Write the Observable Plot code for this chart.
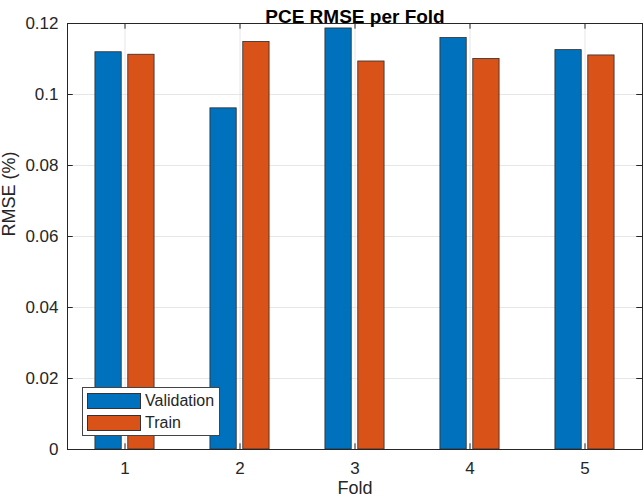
<!DOCTYPE html>
<html>
<head>
<meta charset="utf-8">
<script src="https://cdn.jsdelivr.net/npm/d3@7"></script>
<script src="https://cdn.jsdelivr.net/npm/@observablehq/plot@0.6"></script>
<style>
  html, body { margin: 0; padding: 0; background: #fff; }
  #wrap { position: relative; width: 644px; height: 501px; font-family: "Liberation Sans", Arial, sans-serif; }
  #legend { position: absolute; left: 82px; top: 387px; width: 136px; height: 47px; background: #fff; border: 1px solid #444; box-sizing: content-box; }
  .item { position: absolute; left: 4px; height: 16px; display: flex; align-items: center; }
  .sw { width: 54px; height: 16px; border: 1px solid #333; box-sizing: border-box; }
  .lab { margin-left: 4px; font-size: 16px; color: #262626; line-height: 16px; }
</style>
</head>
<body>
<div id="wrap"></div>
<script>
const folds = [1, 2, 3, 4, 5];
const validation = [0.1119, 0.0961, 0.1186, 0.1159, 0.1125];
const train = [0.1112, 0.1148, 0.1093, 0.1100, 0.1110];
const seriesNames = ["Validation", "Train"];
const seriesColors = ["#0072BD", "#D95319"];
const yTicks = [0, 0.02, 0.04, 0.06, 0.08, 0.1, 0.12];

const slot = 2 / 7;          // MATLAB grouped bar slot width
const bw = 0.8 * slot;       // bar width in fold units
const offsets = [-slot / 2, slot / 2];

const rows = [];
folds.forEach((f, i) => {
  rows.push({fold: f, series: seriesNames[0], value: validation[i], off: offsets[0]});
  rows.push({fold: f, series: seriesNames[1], value: train[i], off: offsets[1]});
});

const ink = "#262626";
const tx = 0.05, ty = 0.0016;

const chart = Plot.plot({
  width: 644,
  height: 501,
  marginTop: 23,
  marginBottom: 52,
  marginLeft: 67,
  marginRight: 2,
  style: {fontFamily: '"Liberation Sans", Arial, sans-serif', color: ink, background: "#fff"},
  x: {type: "linear", domain: [0.5, 5.5]},
  y: {domain: [0, 0.12]},
  color: {domain: seriesNames, range: seriesColors},
  marks: [
    Plot.ruleY(yTicks.slice(1, -1), {stroke: "#e6e6e6", strokeWidth: 1}),
    Plot.ruleX(folds, {stroke: "#e6e6e6", strokeWidth: 1}),
    Plot.rect(rows, {
      x1: d => d.fold + d.off - bw / 2,
      x2: d => d.fold + d.off + bw / 2,
      y1: 0,
      y2: "value",
      fill: "series",
      stroke: "#2b2b2b",
      strokeWidth: 0.8
    }),
    Plot.ruleY(yTicks, {x1: 0.5, x2: 0.5 + tx, stroke: ink}),
    Plot.ruleY(yTicks, {x1: 5.5 - tx, x2: 5.5, stroke: ink}),
    Plot.ruleX(folds, {y1: 0, y2: ty, stroke: ink}),
    Plot.ruleX(folds, {y1: 0.12 - ty, y2: 0.12, stroke: ink}),
    Plot.axisY({ticks: yTicks, tickSize: 0, tickPadding: 9, fontSize: 17, label: null,
      tickFormat: d => String(+d.toFixed(2))}),
    Plot.axisX({ticks: folds, tickSize: 0, tickPadding: 12, fontSize: 17, label: null,
      tickFormat: d => String(d)}),
    Plot.frame({stroke: ink, strokeWidth: 1}),
    Plot.text(["PCE RMSE per Fold"], {frameAnchor: "top", dy: -14, fontSize: 19, fontWeight: "bold", fill: "#000"}),
    Plot.text(["Fold"], {frameAnchor: "bottom", dy: 44, fontSize: 18, fill: ink}),
    Plot.text(["RMSE (%)"], {frameAnchor: "left", dx: -58, rotate: -90, fontSize: 18, fill: ink})
  ]
});

const wrap = document.getElementById("wrap");
wrap.appendChild(chart);

const legend = document.createElement("div");
legend.id = "legend";
seriesNames.forEach((name, i) => {
  const item = document.createElement("div");
  item.className = "item";
  item.style.top = (5 + i * 21.5) + "px";
  const sw = document.createElement("div");
  sw.className = "sw";
  sw.style.background = seriesColors[i];
  const lab = document.createElement("span");
  lab.className = "lab";
  lab.textContent = name;
  item.appendChild(sw);
  item.appendChild(lab);
  legend.appendChild(item);
});
wrap.appendChild(legend);
</script>
</body>
</html>
